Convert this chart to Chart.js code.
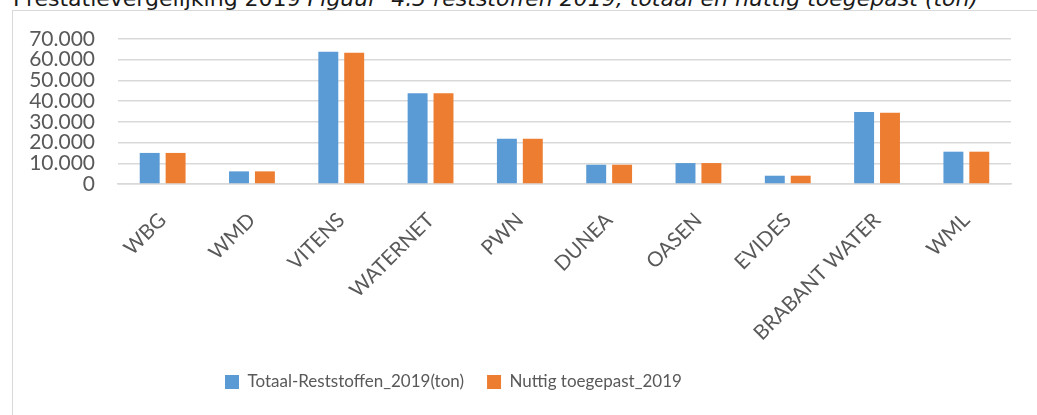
<!DOCTYPE html>
<html>
<head>
<meta charset="utf-8">
<script src="https://cdn.jsdelivr.net/npm/chart.js@4/dist/chart.umd.min.js"></script>
<style>
  html, body { margin: 0; padding: 0; background: #fff; overflow: hidden; }
  body { width: 1037px; height: 415px; position: relative; }
  #title { position: absolute; left: 13px; top: -12px; font-family: "DejaVu Sans", sans-serif; font-size: 22px; line-height: 22px; color: #1a1a1a; white-space: nowrap; }
  #title i { font-style: italic; }
  #frame { position: absolute; left: 12px; top: 10px; width: 1100px; height: 500px; border: 1px solid #d9d9d9; box-sizing: border-box; }
  #wrap { position: absolute; left: 0; top: 0; width: 1037px; height: 415px; }
</style>
</head>
<body>
<div id="title">Prestatievergelijking 2019 <i>Figuur&nbsp; 4.3 reststoffen 2019, totaal en nuttig toegepast (ton)</i></div>
<div id="frame"></div>
<div id="wrap"><canvas id="c" width="1037" height="415"></canvas></div>
<script>
const categories = ["WBG", "WMD", "VITENS", "WATERNET", "PWN", "DUNEA", "OASEN", "EVIDES", "BRABANT WATER", "WML"];
const totaalReststoffen = [15000, 6100, 63900, 43800, 21800, 9300, 10100, 4000, 34800, 15600];
const nuttigToegepast = [15000, 6100, 63400, 43800, 21800, 9300, 10100, 4000, 34400, 15600];
const seriesLabels = ["Totaal-Reststoffen_2019(ton)", "Nuttig toegepast_2019"];
const yTickValues = [0, 10000, 20000, 30000, 40000, 50000, 60000, 70000];
const yTickLabels = ["0", "10.000", "20.000", "30.000", "40.000", "50.000", "60.000", "70.000"];

const TEXT = "#595959";
const GRID = "#d9d9d9";
const LEGEND_PAD = 23;
const LEGEND_FONT = 17;
const LEGEND_HEIGHT = LEGEND_FONT + LEGEND_PAD + 10;
const PLOT_BOTTOM = 184;

const legendPlace = {
  id: "legendPlace",
  afterLayout(chart) {
    const lg = chart.legend;
    if (!lg) return;
    lg.left = 225 - LEGEND_PAD;
    lg.right = chart.width;
    lg.top = 382 - LEGEND_PAD - LEGEND_FONT / 2;
  }
};

new Chart(document.getElementById("c"), {
  type: "bar",
  data: {
    labels: categories,
    datasets: [
      { label: seriesLabels[0], data: totaalReststoffen, backgroundColor: "#5B9BD5", borderWidth: 0 },
      { label: seriesLabels[1], data: nuttigToegepast, backgroundColor: "#ED7D31", borderWidth: 0 }
    ]
  },
  options: {
    responsive: false,
    animation: false,
    devicePixelRatio: 1,
    layout: { padding: { left: 0, right: 26, top: 39, bottom: 0 } },
    datasets: { bar: { categoryPercentage: 0.58, barPercentage: 0.77 } },
    plugins: {
      title: { display: false },
      tooltip: { enabled: false },
      legend: {
        position: "bottom",
        align: "start",
        labels: {
          color: TEXT,
          boxWidth: 14,
          boxHeight: 14,
          padding: LEGEND_PAD,
          font: { family: "Lato", size: LEGEND_FONT }
        }
      }
    },
    scales: {
      x: {
        grid: { display: false, drawTicks: false },
        border: { display: true, color: GRID, width: 1.5 },
        ticks: {
          color: TEXT,
          autoSkip: false,
          minRotation: 45,
          maxRotation: 45,
          padding: 24,
          font: { family: "Lato", size: 20.5 }
        },
        afterFit(scale) { scale.height = 415 - PLOT_BOTTOM - LEGEND_HEIGHT; }
      },
      y: {
        min: 0,
        max: 70000,
        afterBuildTicks(scale) { scale.ticks = yTickValues.map(v => ({ value: v })); },
        grid: { color: GRID, lineWidth: 1.5, drawTicks: false },
        border: { display: false },
        ticks: {
          color: TEXT,
          autoSkip: false,
          padding: 23,
          font: { family: "Lato", size: 21 },
          callback(value) {
            const i = yTickValues.indexOf(value);
            return i >= 0 ? yTickLabels[i] : "";
          }
        },
        afterFit(scale) { scale.width = 118; }
      }
    }
  },
  plugins: [legendPlace]
});
</script>
</body>
</html>
